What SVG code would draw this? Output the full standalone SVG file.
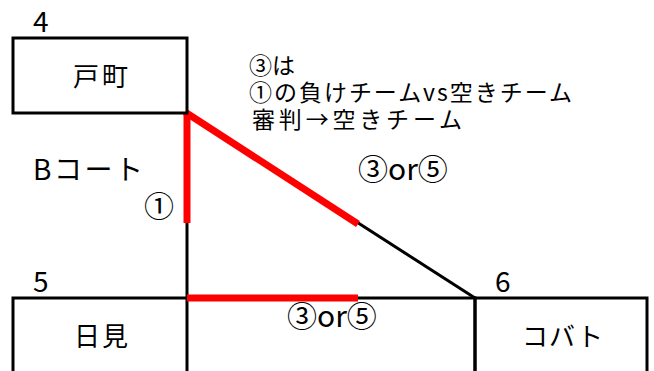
<svg xmlns="http://www.w3.org/2000/svg" width="654" height="371" viewBox="0 0 654 371">
<style>
text{font-family:"Noto Sans CJK JP","Noto Sans",sans-serif;fill:#000;}
.lbl{font-size:26px;}
.num{font-size:28px;}
.circ{font-size:30px;}
.note{font-size:23px;}
.box{fill:#fff;stroke:#000;stroke-width:3;}
.blk{stroke:#000;stroke-width:3;fill:none;}
.red{stroke:#ff0000;stroke-width:7;fill:none;}
</style>
<rect width="654" height="371" fill="#fff"/>
<g id="connectors">
<line class="blk" x1="187" y1="113" x2="187" y2="298"/>
<line class="blk" x1="187" y1="113" x2="475" y2="298"/>
<line class="red" x1="187" y1="113" x2="187" y2="223"/>
<line class="red" x1="185" y1="112" x2="358" y2="224"/>
</g>
<g id="node-tomachi">
<rect class="box" x="13" y="38" width="174" height="75"/>
<text class="num" x="33" y="32">4</text>
<text class="lbl" x="73" y="86" textLength="55">戸町</text>
</g>
<g id="node-hinomi">
<path class="blk" d="M13,375 V298 H187 V375"/>
<text class="num" x="33" y="292">5</text>
<text class="lbl" x="74" y="346" textLength="54">日見</text>
</g>
<g id="node-center">
<path class="blk" d="M187,298 H475 V375"/>
<line class="red" x1="187" y1="298" x2="358" y2="298"/>
<text class="circ" x="287" y="327">③or⑤</text>
</g>
<g id="node-kobato">
<path class="blk" d="M475,375 V298 H647 V375"/>
<text class="num" x="495" y="292">6</text>
<text class="lbl" x="522" y="346" textLength="81">コバト</text>
</g>
<g id="labels">
<text class="num" x="33" y="180" textLength="110">Bコート</text>
<text class="circ" x="144" y="217">①</text>
<text class="circ" x="358" y="180">③or⑤</text>
<text class="note" x="249" y="74">③は</text>
<text class="note" x="249" y="101" textLength="323">①の負けチームvs空きチーム</text>
<text class="note" x="252" y="128" textLength="210">審判→空きチーム</text>
</g>
</svg>
